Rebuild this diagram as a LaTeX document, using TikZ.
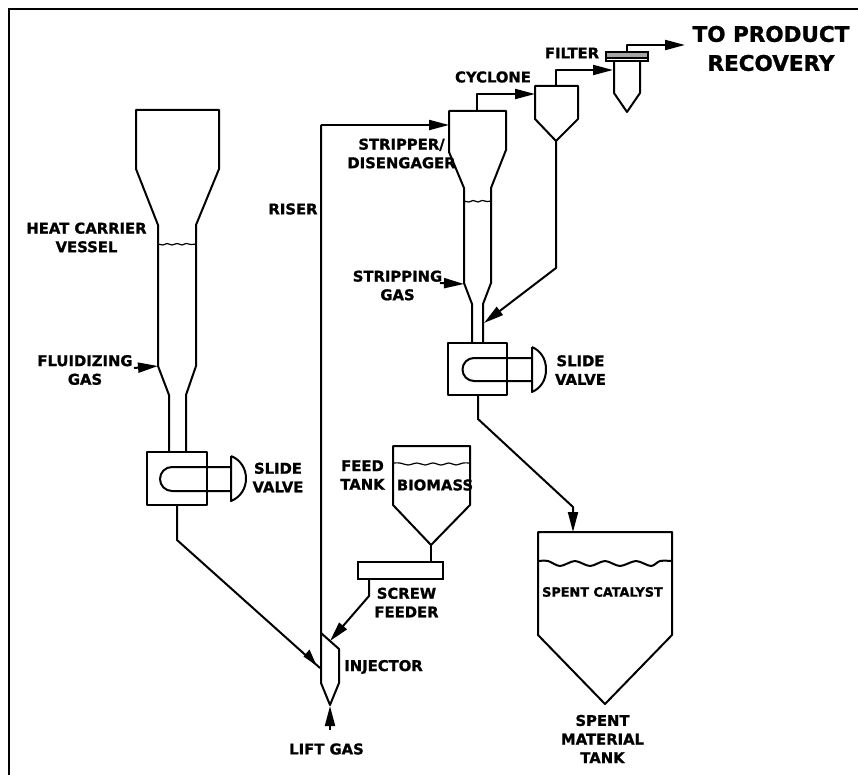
\documentclass[tikz,border=0pt]{standalone}
\usepackage{fontspec}
\setmainfont{DejaVu Sans}[BoldFeatures={FakeBold=1.2}]
\usetikzlibrary{arrows.meta, positioning, calc}
\tikzset{
  lbl/.style={inner sep=0pt, align=center, font=\bfseries\fontsize{14.8}{18.6}\selectfont},
  vessel/.style={line width=2pt, line join=round},
  pipe/.style={line width=2pt, line join=round, -{Triangle[length=20pt,width=10pt]}},
  level/.style={line width=1.2pt}
}
\begin{document}
\begin{tikzpicture}[x=1pt, y=-1pt]
  \useasboundingbox (0,0) rectangle (858,775);
  % frame, open on two sides
  \draw[line width=2.6pt] (9,775) -- (9,9) -- (858,9);

  % heat carrier vessel
  \draw[vessel] (169,452) -- (169,395) -- (158,366) -- (158,225) -- (136,169) -- (136,110)
    -- (219,110) -- (219,169) -- (196,225) -- (196,366) -- (186,395) -- (186,452);
  \draw[level] plot[smooth] coordinates {(158,244) (163,245) (167,243.5) (172,245) (177,243.5) (182,245) (186,243.5) (191,244.5) (196,244)};
  \draw[vessel] (147,452) rectangle (207,505);
  \draw[vessel] (231,467) -- (172,467) arc (270:90:12) -- (231,491);
  \draw[vessel] (231,456) -- (231,501) .. controls (241,497) and (246,488) .. (246,478.5) .. controls (246,469) and (241,460) .. (231,456);
  \coordinate (heatout) at (177,505);
  \coordinate (heatbend) at (177,540);

  % riser and injector
  \coordinate (riserbot) at (321,683);
  \coordinate (risertop) at (321,125);
  \coordinate (stripin) at (449,125);
  \draw[vessel] (risertop) -- (riserbot) -- (330,705) -- (339,683) -- (339,649) -- (321,633);
  \draw[pipe] (risertop) -- (stripin);
  \coordinate (injin) at (320,668);
  \draw[vessel] (heatout) -- (heatbend) -- (injin);
  \fill (303.5,656.5) -- (316.5,665.5) -- (309.5,649.5) -- cycle;
  \coordinate (liftfoot) at (330,730);
  \coordinate (lifttip) at (330,706);
  \draw[pipe] (liftfoot) -- (lifttip);

  % feed tank and screw feeder
  \draw[vessel] (393,446) -- (470,446) -- (470,505) -- (431,545) -- (393,505) -- cycle;
  \draw[level] plot[smooth] coordinates {(393,463) (400,463) (408,465) (417,463) (425,465) (433,463) (441,465) (449,463) (456,465) (463,463) (470,463)};
  \node[draw, line width=2pt, minimum width=85pt, minimum height=17pt, inner sep=0pt] (screw) at (400.5,570.5) {};
  \draw[vessel] (431,545) -- (431,562);
  \coordinate (screwout) at (369,579);
  \coordinate (screwbend) at (369,596);
  \coordinate (injtop) at (330,641);
  \draw[pipe] (screwout) -- (screwbend) -- (injtop);

  % stripper / disengager
  \draw[vessel] (472,343) -- (472,304) -- (464,283) -- (464,188) -- (449,152) -- (449,111)
    -- (506,111) -- (506,150) -- (491,188) -- (491,283) -- (483,304) -- (483,343);
  \draw[level] plot[smooth] coordinates {(464,201) (469,202) (473,200.5) (478,202) (482,200.5) (487,201.5) (491,201)};
  \draw[vessel] (448,343) rectangle (507,395);
  \draw[vessel] (532,358) -- (474,358) arc (270:90:11.5) -- (532,381);
  \draw[vessel] (532,347) -- (532,392) .. controls (541,388) and (546,380) .. (546,369.5) .. controls (546,359) and (541,351) .. (532,347);

  % cyclone and filter
  \draw[vessel] (535,86) -- (578,86) -- (578,119) -- (556,141) -- (535,119) -- cycle;
  \draw[vessel] (614,61) -- (614,93) -- (627,112) -- (640,93) -- (640,61);
  \draw[line width=1.4pt, fill=gray!70] (606,52) rectangle (648,61);
  \draw[line width=1.4pt, fill=white] (606,58) rectangle (648,61);
  \coordinate (stripout) at (477,111);
  \coordinate (cycin) at (535,94);
  \coordinate (cycout) at (556,86);
  \coordinate (filtin) at (613,70);
  \coordinate (filtout) at (627,52);
  \coordinate (recovery) at (685,45);
  \draw[pipe] (stripout) |- (cycin);
  \draw[pipe] (cycout) |- (filtin);
  \draw[pipe] (filtout) |- (recovery);

  % returns to the slide valves and the spent tank
  \coordinate (cycbot) at (556,141);
  \coordinate (cycbend) at (556,268);
  \coordinate (stripjoin) at (484,323);
  \draw[pipe] (cycbot) -- (cycbend) -- (stripjoin);
  \coordinate (stripbot) at (478,395);
  \coordinate (stripbend) at (478,419);
  \coordinate (spentbend) at (573,507);
  \coordinate (spenttop) at (573,532);
  \draw[pipe] (stripbot) -- (stripbend) -- (spentbend) -- (spenttop);
  \draw[vessel] (538,532) -- (672,532) -- (672,635) -- (605,704) -- (538,635) -- cycle;
  \draw[vessel] plot[smooth] coordinates {(538,561) (548,561) (560,566) (575,561) (590,566) (605,561) (620,566) (636,561) (651,566) (660,561) (672,561)};

  % gas inlets
  \coordinate (fluidfoot) at (134,368);
  \coordinate (fluidtip) at (158,366);
  \draw[pipe] (fluidfoot) -- (fluidtip);
  \coordinate (stripgasfoot) at (440,283);
  \coordinate (stripgastip) at (464,284);
  \draw[pipe] (stripgasfoot) -- (stripgastip);

  % labels
  \node[lbl, font=\bfseries\fontsize{21.5}{29}\selectfont] (recoverylbl) at (771,48.5) {TO PRODUCT\\RECOVERY};
  \node[lbl] (filterlbl) at (572,53) {FILTER};
  \node[lbl] (cyclonelbl) at (493,77) {CYCLONE};
  \node[lbl] (stripperlbl) at (401.5,153.5) {STRIPPER/\\DISENGAGER};
  \node[lbl] (riserlbl) at (293,209) {RISER};
  \node[lbl] (strippinglbl) at (397.5,285.5) {STRIPPING\\GAS};
  \node[lbl] (heatlbl) at (86.5,237.5) {HEAT CARRIER\\VESSEL};
  \node[lbl] (fluidlbl) at (85,370) {FLUIDIZING\\GAS};
  \node[lbl] (slidelbl) at (278,477.5) {SLIDE\\VALVE};
  \node[lbl] (slidelbltwo) at (580.5,370) {SLIDE\\VALVE};
  \node[lbl] (feedlbl) at (362.5,475) {FEED\\TANK};
  \node[lbl] (biomasslbl) at (435,485) {BIOMASS};
  \node[lbl] (screwlbl) at (406.5,602.5) {SCREW\\FEEDER};
  \node[lbl] (injectorlbl) at (383.5,667) {INJECTOR};
  \node[lbl] (liftlbl) at (326.5,749) {LIFT GAS};
  \node[lbl, font=\bfseries\fontsize{12.8}{14}\selectfont] (catalystlbl) at (602.5,592) {SPENT CATALYST};
  \node[lbl] (materiallbl) at (602.5,739) {SPENT\\MATERIAL\\TANK};
\end{tikzpicture}
\end{document}
